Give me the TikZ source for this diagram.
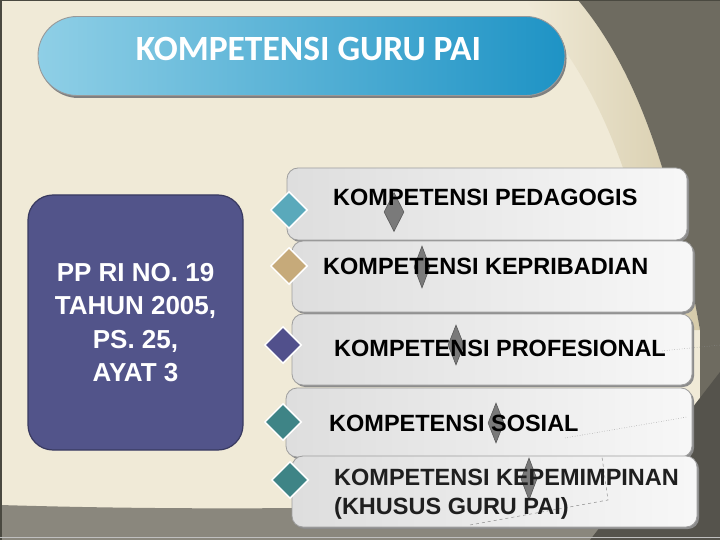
\documentclass[tikz,border=0pt]{standalone}
\usepackage{fontspec}
\setmainfont{Liberation Sans}
\newfontfamily\titlefont{Carlito}
\usetikzlibrary{shapes.geometric,shadows}

\definecolor{bgcream}{HTML}{F0EAD7}
\definecolor{bgtan}{HTML}{D6CBAA}
\definecolor{bgdark}{HTML}{6E6B60}
\definecolor{bgdeep}{HTML}{55534C}
\definecolor{bgband}{HTML}{8A877D}
\definecolor{bgframe}{HTML}{4A4940}
\definecolor{pilllight}{HTML}{8FCFE6}
\definecolor{pilldark}{HTML}{1E93C5}
\definecolor{ppfill}{HTML}{52548A}
\definecolor{ppline}{HTML}{393A60}
\definecolor{mkteal}{HTML}{5AA9BB}
\definecolor{mktan}{HTML}{C6AA7A}
\definecolor{mkpurple}{HTML}{51508C}
\definecolor{mkgreen}{HTML}{3E8486}

\begin{document}
\begin{tikzpicture}[x=1pt, y=-1pt,
	card/.style={draw=black!38, line width=0.8pt, rounded corners=11pt, inner sep=0pt, left color=black!13, right color=black!3, drop shadow={shadow xshift=2pt, shadow yshift=-2pt, fill=black!45, opacity=1}},
	cardtext/.style={anchor=west, inner sep=0pt, font=\fontsize{23.5}{29}\selectfont\bfseries},
	marker/.style={diamond, draw=white, line width=1.5pt, inner sep=0pt, minimum size=37pt},
	knob/.style={diamond, draw=black!65, fill=black!52, line width=0.6pt, inner sep=0pt, minimum width=16pt, minimum height=40pt},
	ghost/.style={black!45, line width=0.5pt, dotted}]
	\useasboundingbox (0,0) rectangle (720,540);
	\fill[bgcream] (0,0) rectangle (720,540);
	\shade[left color=bgcream, right color=bgtan] (525,0) .. controls (588,70) and (630,150) .. (665,330) -- (700,330) .. controls (668,150) and (628,60) .. (578,0) -- cycle;
	\fill[bgdark] (578,0) .. controls (628,60) and (668,150) .. (700,330) -- (700,540) -- (720,540) -- (720,0) -- cycle;
	\fill[bgband] (0,505) .. controls (200,511) and (420,509) .. (640,498) -- (600,540) -- (0,540) -- cycle;
	\fill[bgdeep] (720,372) -- (590,540) -- (720,540) -- cycle;
	\fill[bgframe] (0,0) rectangle (1.5,540);
	\fill[bgframe] (0,0) rectangle (720,1.5);
	\draw[black!25, line width=1pt] (0,537) -- (720,537);

	\node[draw=black!40, line width=0.9pt, rounded corners=39pt, left color=pilllight, right color=pilldark, minimum width=527pt, minimum height=79pt, drop shadow={shadow xshift=1.5pt, shadow yshift=-2.5pt, fill=black!50, opacity=1}] (title) at (301.5,56) {};
	\node[text=white, inner sep=0pt, font=\titlefont\bfseries\fontsize{35.5}{40}\selectfont] (titletxt) at (308.5,48.5) {KOMPETENSI GURU PAI};

	\node[draw=ppline, line width=1.2pt, fill=ppfill, rounded corners=25pt, minimum width=215pt, minimum height=255pt, text=white, align=center, font=\fontsize{26}{33.5}\selectfont\bfseries] (pp) at (135.5,322.5) {PP RI NO. 19\\TAHUN 2005,\\PS. 25,\\AYAT 3};

	\node[card, minimum width=400pt, minimum height=72pt] (c1) at (487,204) {};
	\node[card, minimum width=401pt, minimum height=71pt] (c2) at (492.5,276.5) {};
	\node[card, minimum width=400pt, minimum height=71pt] (c3) at (492,349.5) {};
	\node[card, minimum width=406pt, minimum height=69pt] (c4) at (489,422.5) {};
	\node[card, minimum width=405pt, minimum height=71pt] (c5) at (494.5,491.5) {};

	\draw[ghost] (662,351) -- (720,345);
	\draw[ghost] (565,438) -- (687,417);
	\draw[ghost, dashed] (470,525) -- (608,500) -- (602,457);

	\node[knob, minimum width=20pt, minimum height=39pt] (k1) at (394,212) {};
	\node[knob, minimum height=42pt] (k2) at (422,267) {};
	\node[knob] (k3) at (456,345) {};
	\node[knob] (k4) at (496,423) {};
	\node[knob, minimum height=42pt] (k5) at (529,479) {};

	\node[cardtext] (t1) at (333,197) {KOMPETENSI PEDAGOGIS};
	\node[cardtext] (t2) at (323,266) {KOMPETENSI KEPRIBADIAN};
	\node[cardtext] (t3) at (334,348) {KOMPETENSI PROFESIONAL};
	\node[cardtext] (t4) at (329,423) {KOMPETENSI SOSIAL};
	\node[cardtext, align=left, text=black!88] (t5) at (334,494) {KOMPETENSI KEPEMIMPINAN\\(KHUSUS GURU PAI)};

	\node[marker, fill=mkteal] (d1) at (289,210) {};
	\node[marker, fill=mktan] (d2) at (289,266) {};
	\node[marker, fill=mkpurple] (d3) at (283,345) {};
	\node[marker, fill=mkgreen] (d4) at (283,422) {};
	\node[marker, fill=mkgreen] (d5) at (290,480) {};
\end{tikzpicture}
\end{document}
